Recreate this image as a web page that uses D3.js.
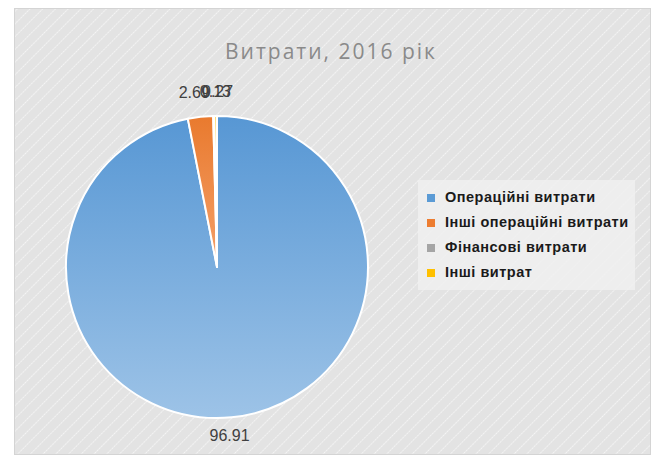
<!DOCTYPE html>
<html><head><meta charset="utf-8">
<script src="https://cdn.jsdelivr.net/npm/d3@7"></script>
<style>body{margin:0;background:#fff}svg{display:block}</style>
</head><body>
<script>
const categories = ["Операційні витрати","Інші операційні витрати","Фінансові витрати","Інші витрат"];
const values = [96.91, 2.69, 0.13, 0.27];
const valueLabels = ["96.91","2.69","0.13","0.27"];
const colors = ["#5b9bd5","#ed7d31","#a5a5a5","#ffc000"];
const title = "Витрати, 2016 рік";

const W=653,H=459;
const svg=d3.select("body").append("svg").attr("width",W).attr("height",H);
const defs=svg.append("defs");
const pat=defs.append("pattern").attr("id","stripes").attr("patternUnits","userSpaceOnUse")
  .attr("width",9).attr("height",9).attr("patternTransform","rotate(45)");
pat.append("rect").attr("width",9).attr("height",9).attr("fill","#e3e3e3");
pat.append("line").attr("x1",0).attr("y1",0).attr("x2",0).attr("y2",9)
  .attr("stroke","#fdfdfd").attr("stroke-width",1.4).attr("stroke-dasharray","1,0.5");
const gBlue=defs.append("linearGradient").attr("id","gblue").attr("x1",0).attr("y1",0).attr("x2",0).attr("y2",1);
gBlue.append("stop").attr("offset","0%").attr("stop-color","#5797d4");
gBlue.append("stop").attr("offset","100%").attr("stop-color","#9dc3e7");
const gOr=defs.append("linearGradient").attr("id","gor").attr("x1",0).attr("y1",0).attr("x2",0).attr("y2",1);
gOr.append("stop").attr("offset","0%").attr("stop-color","#e97a2e");
gOr.append("stop").attr("offset","100%").attr("stop-color","#f4a06a");
const fills=["url(#gblue)","url(#gor)",colors[2],colors[3]];

svg.append("rect").attr("x",14.5).attr("y",8.5).attr("width",636).attr("height",446)
  .attr("fill","url(#stripes)").attr("stroke","#d4d4d4");

svg.append("text").attr("x",331).attr("y",59).attr("text-anchor","middle")
  .attr("font-family","Open Sans, Liberation Sans, sans-serif").attr("font-size",21)
  .attr("letter-spacing",2).attr("fill","#8a8a8a").text(title);

const cx=217,cy=267,R=151;
const pie=d3.pie().sort(null).value(d=>d)(values);
const arc=d3.arc().innerRadius(0).outerRadius(R);
const g=svg.append("g").attr("transform",`translate(${cx},${cy})`);
g.selectAll("path").data(pie).join("path").attr("d",arc)
  .attr("fill",(d,i)=>fills[i]).attr("stroke","#fff").attr("stroke-width",2).attr("stroke-linejoin","round");

const labelArc=d3.arc().innerRadius(R+20).outerRadius(R+20);
const dx=[-4,-4,2,2], dy=[0,-3,-3,-3];
g.selectAll("text.lbl").data(pie).join("text").attr("class","lbl")
  .attr("transform",(d,i)=>{const c=labelArc.centroid(d);return `translate(${c[0]+dx[i]},${c[1]+dy[i]})`;})
  .attr("text-anchor","middle").attr("dominant-baseline","middle")
  .attr("font-family","Liberation Sans, Arial, sans-serif").attr("font-size",16)
  .attr("fill","#404040").text((d,i)=>valueLabels[i]);

const lg=svg.append("g").attr("transform","translate(418,180)");
lg.append("rect").attr("width",217).attr("height",110).attr("fill","#f0f0f0").attr("fill-opacity",0.85);
categories.forEach((c,i)=>{
  const y=18+i*25;
  lg.append("rect").attr("x",9).attr("y",y-4).attr("width",8).attr("height",8).attr("fill",colors[i]);
  lg.append("text").attr("x",27).attr("y",y).attr("dominant-baseline","middle")
    .attr("font-family","Liberation Sans, Arial, sans-serif").attr("font-weight","bold")
    .attr("font-size",14.5).attr("letter-spacing",0.5).attr("fill","#1a1a1a").text(c);
});
</script>
</body></html>
